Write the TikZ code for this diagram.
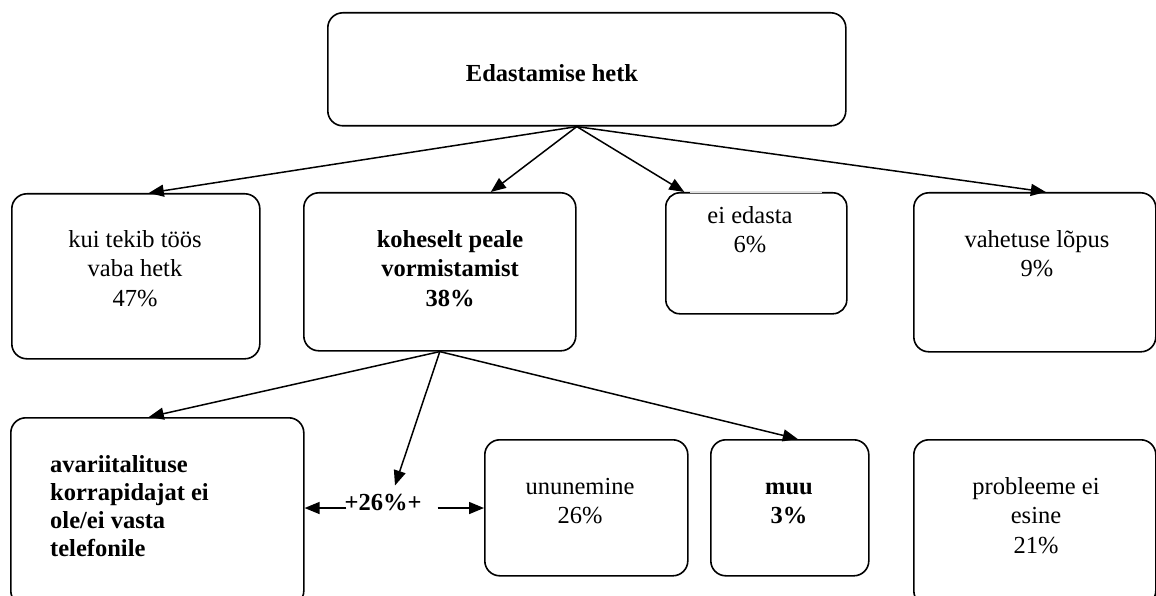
\documentclass[tikz,border=0pt]{standalone}
\usepackage{fontspec}
\setmainfont{Liberation Serif}
\usetikzlibrary{arrows.meta,calc}
\begin{document}
\begin{tikzpicture}[x=1pt,y=-1pt,
  box/.style={draw, line width=1.6pt, rounded corners=15pt, inner sep=0pt, anchor=north west},
  txt/.style={font=\fontsize{24.5}{29.3}\selectfont, align=center, inner sep=0pt, anchor=north},
  btxt/.style={txt, font=\fontsize{24.5}{29.3}\selectfont\bfseries},
  arr/.style={line width=1.5pt, -{Triangle[length=15pt,width=12pt]}}]
\useasboundingbox (0,0) rectangle (1156,596);
\clip (0,0) rectangle (1156,596);
% boxes
\node[box, minimum width=518pt, minimum height=113pt] (T) at (327,12) {};
\node[box, minimum width=248pt, minimum height=165pt] (A) at (11,193) {};
\node[box, minimum width=272pt, minimum height=158pt] (B) at (303,192) {};
\node[box, minimum width=181pt, minimum height=121pt, rounded corners=14pt] (C) at (665,192) {};
\node[box, minimum width=242pt, minimum height=159pt] (D) at (913,192) {};
\node[box, minimum width=293pt, minimum height=188pt] (E) at (10,417) {};
\node[box, minimum width=203pt, minimum height=136pt] (F) at (484,439) {};
\node[box, minimum width=158pt, minimum height=136pt] (G) at (710,439) {};
\node[box, minimum width=242pt, minimum height=166pt] (H) at (913,439) {};
% faint top edge of C
\draw[white!88!black, line width=1.9pt] (690,192) -- (822,192);
% texts
\node[btxt, anchor=base] (Tt) at (552,82) {Edastamise hetk};
\node[txt] (At) at (135,226.7) {\strut kui tekib töös\\vaba hetk\\47\%};
\node[btxt] (Bt) at (450,226.7) {\strut koheselt peale\\vormistamist\\38\%};
\node[txt] (Ct) at (750,202.5) {\strut ei edasta\\ 6\%};
\node[txt] (Dt) at (1037,226.7) {\strut vahetuse lõpus\\9\%};
\node[btxt, anchor=north west, align=left, font=\fontsize{24.5}{28}\selectfont\bfseries] (Et) at (50,452.7) {\strut avariitalituse\\korrapidajat ei\\ole/ei vasta\\telefonile};
\node[txt] (Ft) at (580,473.7) {\strut ununemine\\26\%};
\node[btxt] (Gt) at (789,473.7) {\strut muu\\3\%};
\node[txt] (Ht) at (1036,473.7) {\strut probleeme ei\\esine\\21\%};
\node[btxt, anchor=base] (L) at (383,510) {+26\%+};
% connectors from top
\coordinate (tapex) at ([xshift=-10pt]T.south);
\draw[arr] (tapex) -- ([xshift=13pt]A.north);
\draw[arr] (tapex) -- ([xshift=51pt]B.north);
\draw[arr] (tapex) -- ([xshift=-72pt]C.north);
\draw[arr] (tapex) -- ([xshift=11pt]D.north);
% connectors from B
\coordinate (bapex) at (B.south);
\draw[arr] (bapex) -- ([xshift=12pt,yshift=8pt]L.north);
\draw[arr] (bapex) -- ([xshift=-8.5pt]E.north);
\draw[arr] (bapex) -- ([xshift=8pt]G.north);
% label arrows
\coordinate (lw) at ([xshift=2pt,yshift=-6pt]L.west);
\coordinate (le) at ([xshift=16pt,yshift=-6pt]L.east);
\draw[arr] (lw) -- (lw -| E.east);
\draw[arr] (le) -- (le -| F.west);
\end{tikzpicture}
\end{document}
